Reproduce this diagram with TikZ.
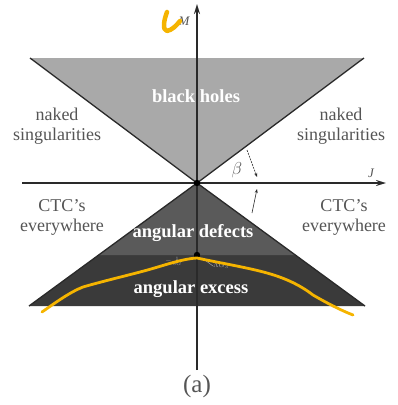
\documentclass[tikz,border=0pt]{standalone}
\usepackage{fontspec}
\setmainfont{Liberation Serif}
\usetikzlibrary{arrows.meta}
\definecolor{lightfill}{HTML}{A9A9A9}
\definecolor{midfill}{HTML}{5A5A5A}
\definecolor{darkfill}{HTML}{3A3A3A}
\definecolor{edgecol}{HTML}{2A2A2A}
\definecolor{labelgray}{HTML}{555555}
\definecolor{marker}{HTML}{F5B400}
\tikzset{
  lbl/.style={text=labelgray, font=\fontsize{18}{19}\selectfont, align=center, inner sep=0pt},
  wlbl/.style={text=white, font=\fontsize{18.5}{20}\selectfont\bfseries, inner sep=0pt},
  axis/.style={draw=edgecol, line width=1.8pt, -{Stealth[length=10pt,width=6pt]}},
  edge/.style={draw=edgecol, line width=1.3pt},
  hand/.style={draw=marker, line width=4.5pt, line cap=round, line join=round},
  thinarrow/.style={draw=edgecol, line width=0.6pt, -{Stealth[length=4pt,width=3pt]}},
  tiny/.style={text=gray!70, font=\fontsize{7}{8}\selectfont, inner sep=0pt}
}
\begin{document}
\begin{tikzpicture}[x=1pt,y=-1pt]
\useasboundingbox (0,0) rectangle (397,405);
% coordinates
\coordinate (O) at (197,183);
\coordinate (UL) at (30,58);
\coordinate (UR) at (364,58);
\coordinate (LL) at (29,306);
\coordinate (LR) at (365,306);
\coordinate (BL) at (98.5,255);
\coordinate (BR) at (295.5,255);
\coordinate (P) at (197,255);
% fills
\fill[lightfill] (UL) -- (UR) -- (O) -- cycle;
\fill[darkfill] (O) -- (LR) -- (LL) -- cycle;
\fill[midfill] (O) -- (BR) -- (BL) -- cycle;
% edges
\draw[edge] (UL) -- (O) -- (UR);
\draw[edge] (LL) -- (O) -- (LR);
% axes
\coordinate (Vbot) at (197,370);
\coordinate (Vtop) at (197,4);
\coordinate (Hleft) at (22,183);
\coordinate (Hright) at (386,183);
\draw[axis] (Vbot) -- (Vtop);
\draw[axis] (Hleft) -- (Hright);
\fill[black] (O) circle (3.2pt);
\fill[black] (P) circle (3.2pt);
% labels
\node[lbl, font=\fontsize{13}{14}\selectfont\itshape] (M) at (184,21) {M};
\node[lbl, font=\fontsize{13}{14}\selectfont\itshape] (J) at (371,173) {J};
\node[wlbl] (bh) at (196,96) {black holes};
\node[lbl] (nsl) at (57,126) {naked\\[1pt]singularities};
\node[lbl] (nsr) at (341,126) {naked\\[1pt]singularities};
\node[lbl] (ctcl) at (62,217) {CTC's\\[1pt]everywhere};
\node[lbl] (ctcr) at (344,217) {CTC's\\[1pt]everywhere};
\node[lbl, font=\fontsize{16}{17}\selectfont] (beta) at (237,170) {$\beta$};
\node[wlbl] (ad) at (193,233) {angular defects};
\node[wlbl] (ae) at (191,289) {angular excess};
\node[lbl, font=\fontsize{25}{27}\selectfont] (a) at (197,386) {(a)};
% small labels at the point
\node[tiny] (m1) at (174,261) {$-\frac{1}{8G}$};
\coordinate (m2s) at (202,258);
\node[tiny, anchor=west] (m2) at (213,266) {$\Lambda G_3$};
\draw[gray!70, line width=0.5pt] (m2s) -- (m2.west);
% beta arrows
\coordinate (a1s) at (247,150);
\coordinate (a1e) at (257,177);
\coordinate (a2s) at (252,213);
\coordinate (a2e) at (257,189);
\draw[thinarrow, dash pattern=on 2pt off 1pt] (a1s) -- (a1e);
\draw[thinarrow] (a2s) -- (a2e);
% hand-drawn marks
\draw[hand] (167,12) .. controls (164,20) and (162,30) .. (167,31) .. controls (172,30) and (176,26) .. (180,21);
\draw[hand, line width=2.8pt] (42,312) .. controls (55,303) and (70,292) .. (83,287)
  .. controls (100,282) and (125,276) .. (140,272)
  .. controls (160,267) and (180,259) .. (197,258)
  .. controls (215,262) and (250,268) .. (267,273)
  .. controls (285,278) and (300,285) .. (313,295)
  .. controls (325,302) and (340,310) .. (353,315);
\end{tikzpicture}
\end{document}
